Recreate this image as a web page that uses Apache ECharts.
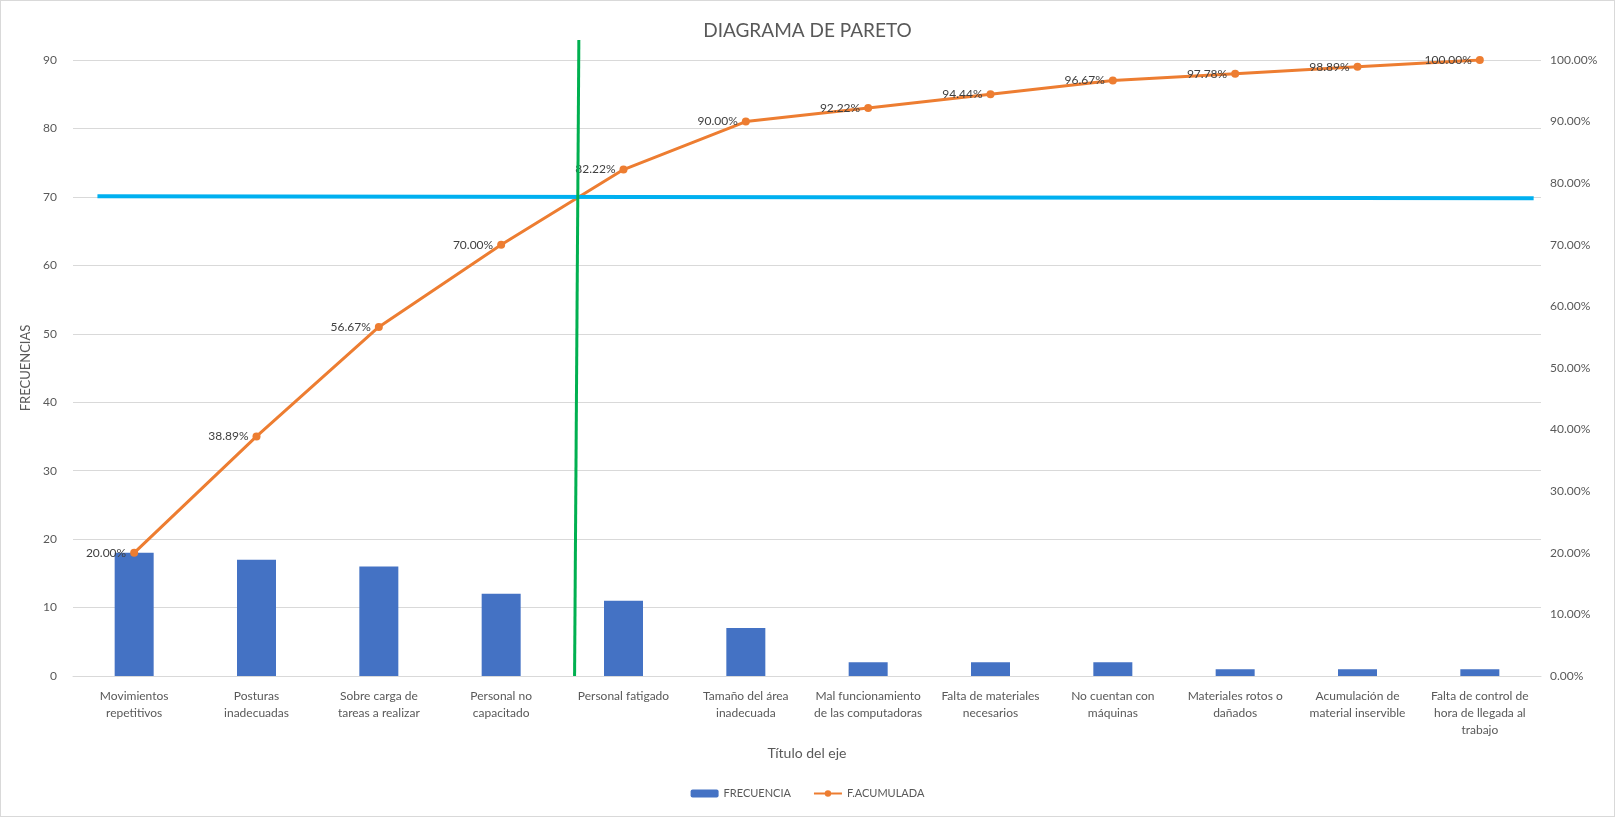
<!DOCTYPE html>
<html>
<head>
<meta charset="utf-8">
<script src="https://cdn.jsdelivr.net/npm/echarts@6/dist/echarts.min.js"></script>
<style>
  html, body { margin: 0; padding: 0; background: #fff; }
  #chart { width: 1615px; height: 817px; box-sizing: border-box; border: 1px solid #d9d9d9; }
</style>
</head>
<body>
<div id="chart"></div>
<script>
// Causes, ordered by frequency
const categories = [
  'Movimientos repetitivos', 'Posturas inadecuadas', 'Sobre carga de tareas a realizar',
  'Personal no capacitado', 'Personal fatigado', 'Tamaño del área inadecuada',
  'Mal funcionamiento de las computadoras', 'Falta de materiales necesarios',
  'No cuentan con máquinas', 'Materiales rotos o dañados',
  'Acumulación de material inservible', 'Falta de control de hora de llegada al trabajo'
];
// Wrapped text shown under each bar
const tickLabels = [
  'Movimientos\nrepetitivos', 'Posturas\ninadecuadas', 'Sobre carga de\ntareas a realizar',
  'Personal no\ncapacitado', 'Personal fatigado', 'Tamaño del área\ninadecuada',
  'Mal funcionamiento\nde las computadoras', 'Falta de materiales\nnecesarios',
  'No cuentan con\nmáquinas', 'Materiales rotos o\ndañados',
  'Acumulación de\nmaterial inservible', 'Falta de control de\nhora de llegada al\ntrabajo'
];
const frecuencia = [18, 17, 16, 12, 11, 7, 2, 2, 2, 1, 1, 1];
const acumulada = [20.00, 38.89, 56.67, 70.00, 82.22, 90.00, 92.22, 94.44, 96.67, 97.78, 98.89, 100.00];

// Reference lines: 70-frequency threshold and the cut where the cumulative curve crosses it
const thresholdLine = [[-0.30, 70.1], [11.44, 69.8]];
const cutLine = [[3.635, 92.9], [3.60, 0]];

const FONT = 'Lato, "Open Sans", sans-serif';
const TXT = '#595959';
const PLOT_TOP = 59, PLOT_BOTTOM = 140;
// the cut line rises above the frequency axis top (90), so it gets its own taller frame
const CUT_TOP = PLOT_TOP - (92.9 - 90) * ((817 - PLOT_TOP - PLOT_BOTTOM) / 90);

const chart = echarts.init(document.getElementById('chart'));
chart.setOption({
  backgroundColor: '#fff',
  textStyle: { fontFamily: FONT },
  title: {
    text: 'DIAGRAMA DE PARETO',
    left: 'center',
    top: 15,
    textStyle: { fontFamily: FONT, fontSize: 19, fontWeight: 'normal', color: TXT }
  },
  legend: {
    data: ['FRECUENCIA', 'F.ACUMULADA'],
    bottom: 12,
    left: 'center',
    itemWidth: 28,
    itemHeight: 8,
    itemGap: 22,
    textStyle: { fontFamily: FONT, fontSize: 11, color: TXT }
  },
  grid: [
    { left: 72, right: 73, top: PLOT_TOP, bottom: PLOT_BOTTOM, containLabel: false },
    { left: 72, right: 73, top: CUT_TOP, bottom: PLOT_BOTTOM, containLabel: false }
  ],
  xAxis: [
    {
      type: 'category',
      gridIndex: 0,
      data: categories,
      name: 'Título del eje',
      nameLocation: 'middle',
      nameGap: 70,
      nameTextStyle: { fontFamily: FONT, fontSize: 14, color: TXT },
      axisLine: { lineStyle: { color: '#d9d9d9' } },
      axisTick: { show: false },
      axisLabel: {
        interval: 0,
        color: TXT,
        fontSize: 12,
        lineHeight: 17,
        margin: 12,
        formatter: (v, i) => tickLabels[i]
      }
    },
    { type: 'value', gridIndex: 0, min: -0.5, max: 11.5, show: false },
    { type: 'value', gridIndex: 1, min: -0.5, max: 11.5, show: false }
  ],
  yAxis: [
    {
      type: 'value',
      gridIndex: 0,
      min: 0, max: 90, interval: 10,
      name: 'FRECUENCIAS',
      nameLocation: 'middle',
      nameGap: 37,
      nameTextStyle: { fontFamily: FONT, fontSize: 13, color: TXT },
      axisLine: { show: false },
      axisTick: { show: false },
      axisLabel: { color: TXT, fontSize: 12, margin: 16 },
      splitLine: { lineStyle: { color: '#d9d9d9' } }
    },
    {
      type: 'value',
      gridIndex: 0,
      min: 0, max: 100, interval: 10,
      position: 'right',
      axisLine: { show: false },
      axisTick: { show: false },
      axisLabel: { color: TXT, fontSize: 12, margin: 9, formatter: v => v.toFixed(2) + '%' },
      splitLine: { show: false }
    },
    { type: 'value', gridIndex: 1, min: 0, max: 92.9, show: false }
  ],
  series: [
    {
      name: 'FRECUENCIA',
      type: 'bar',
      data: frecuencia,
      barWidth: 39,
      itemStyle: { color: '#4472C4' },
      z: 2
    },
    {
      name: 'F.ACUMULADA',
      type: 'line',
      yAxisIndex: 1,
      data: acumulada,
      symbol: 'circle',
      symbolSize: 8,
      lineStyle: { color: '#ED7D31', width: 3 },
      itemStyle: { color: '#ED7D31' },
      label: {
        show: true,
        position: 'left',
        distance: 4,
        color: '#404040',
        fontSize: 12,
        formatter: p => p.value.toFixed(2) + '%'
      },
      z: 3
    },
    {
      name: 'umbral',
      type: 'line',
      xAxisIndex: 1,
      yAxisIndex: 0,
      data: thresholdLine,
      symbol: 'none',
      silent: true,
      lineStyle: { color: '#00B0F0', width: 4 },
      z: 5
    },
    {
      name: 'corte',
      type: 'line',
      xAxisIndex: 2,
      yAxisIndex: 2,
      data: cutLine,
      symbol: 'none',
      silent: true,
      lineStyle: { color: '#00B050', width: 3 },
      z: 6
    }
  ]
});
</script>
</body>
</html>
